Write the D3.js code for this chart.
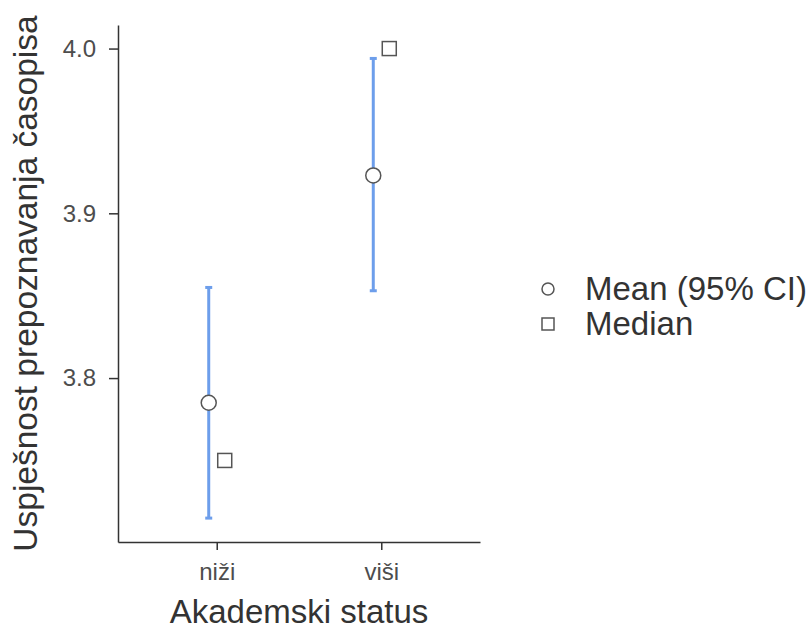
<!DOCTYPE html>
<meta charset="utf-8">
<style>
body { margin: 0; background: #fff; }
text { font-family: "Liberation Sans", Arial, sans-serif; }
.axis path.domain, .axis line { stroke: #333; stroke-width: 1.5px; }
.axis text { fill: #4d4d4d; font-size: 24px; }
</style>
<body>
<div id="chart"></div>
<script src="https://cdnjs.cloudflare.com/ajax/libs/d3/7.8.5/d3.min.js"></script>
<script>
// data
var groups = ["niži", "viši"];
var means = [3.785, 3.923];
var ciLow = [3.715, 3.853];
var ciHigh = [3.855, 3.994];
var medians = [3.75, 4.0];
var yTicks = [3.8, 3.9, 4.0];
var legendLabels = ["Mean (95% CI)", "Median"];

var width = 812, height = 634;
var margin = {top: 25, right: 332, bottom: 92, left: 118};
var pw = width - margin.left - margin.right,
    ph = height - margin.top - margin.bottom;

var svg = d3.select("#chart").append("svg")
    .attr("width", width)
    .attr("height", height);

var g = svg.append("g")
    .attr("transform", "translate(" + margin.left + "," + margin.top + ")");

var x = d3.scalePoint()
    .domain(groups)
    .range([0, pw])
    .padding(0.6);

var y = d3.scaleLinear()
    .domain([3.7005, 4.0143])
    .range([ph, 0]);

var dodge = 8;

// axes
g.append("g")
    .attr("class", "axis")
    .attr("transform", "translate(0," + ph + ")")
    .call(d3.axisBottom(x).tickSize(8).tickSizeOuter(0).tickPadding(13));

g.append("g")
    .attr("class", "axis")
    .call(d3.axisLeft(y).tickValues(yTicks).tickFormat(d3.format(".1f")).tickSize(9).tickSizeOuter(0).tickPadding(13));

// axis titles
svg.append("text")
    .attr("x", margin.left + pw / 2)
    .attr("y", 623)
    .attr("text-anchor", "middle")
    .attr("fill", "#333")
    .style("font-size", "33px")
    .text("Akademski status");

svg.append("text")
    .attr("transform", "translate(37," + (margin.top + ph / 2) + ") rotate(-90)")
    .attr("text-anchor", "middle")
    .attr("fill", "#333")
    .style("font-size", "33.5px")
    .text("Uspješnost prepoznavanja časopisa");

var idx = d3.range(groups.length);
var ebColor = "#6d9eeb";

// error bars
g.selectAll(".eb")
    .data(idx)
  .enter().append("line")
    .attr("x1", function(i) { return x(groups[i]) - dodge; })
    .attr("x2", function(i) { return x(groups[i]) - dodge; })
    .attr("y1", function(i) { return y(ciLow[i]); })
    .attr("y2", function(i) { return y(ciHigh[i]); })
    .attr("stroke", ebColor)
    .attr("stroke-width", 3);

[ciLow, ciHigh].forEach(function(arr) {
  g.selectAll(null)
      .data(idx)
    .enter().append("line")
      .attr("x1", function(i) { return x(groups[i]) - dodge - 3.5; })
      .attr("x2", function(i) { return x(groups[i]) - dodge + 3.5; })
      .attr("y1", function(i) { return y(arr[i]); })
      .attr("y2", function(i) { return y(arr[i]); })
      .attr("stroke", ebColor)
      .attr("stroke-width", 3);
});

// means
g.selectAll(".mean")
    .data(idx)
  .enter().append("circle")
    .attr("cx", function(i) { return x(groups[i]) - dodge; })
    .attr("cy", function(i) { return y(means[i]); })
    .attr("r", 7.5)
    .attr("fill", "#fff")
    .attr("stroke", "#555")
    .attr("stroke-width", 1.5);

// medians
g.selectAll(".median")
    .data(idx)
  .enter().append("rect")
    .attr("x", function(i) { return x(groups[i]) + dodge - 7; })
    .attr("y", function(i) { return y(medians[i]) - 7; })
    .attr("width", 14)
    .attr("height", 14)
    .attr("fill", "#fff")
    .attr("stroke", "#555")
    .attr("stroke-width", 1.5);

// legend
var leg = svg.append("g").attr("transform", "translate(548,289)");
leg.append("circle").attr("cx", 0).attr("cy", 0).attr("r", 6)
    .attr("fill", "#fff").attr("stroke", "#555").attr("stroke-width", 1.5);
leg.append("rect").attr("x", -6).attr("y", 29).attr("width", 12).attr("height", 12)
    .attr("fill", "#fff").attr("stroke", "#555").attr("stroke-width", 1.5);
leg.selectAll(".lt")
    .data(legendLabels)
  .enter().append("text")
    .attr("x", 37)
    .attr("y", function(d, i) { return i * 35 + 11; })
    .attr("fill", "#333")
    .style("font-size", "33px")
    .text(function(d) { return d; });
</script>
</body>
